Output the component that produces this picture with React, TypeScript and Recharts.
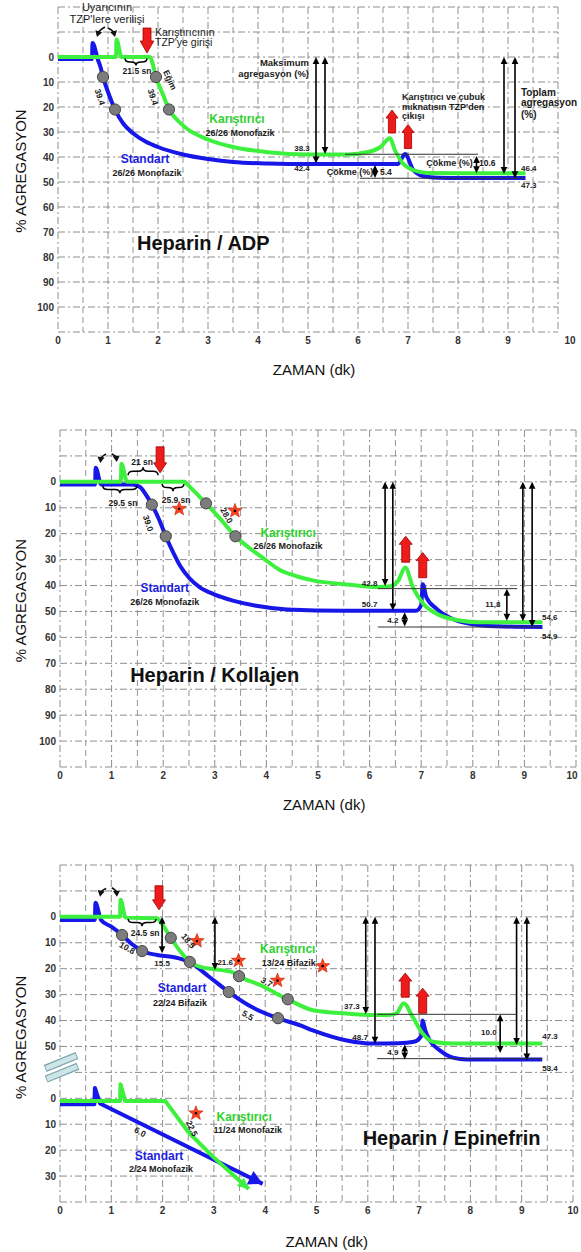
import React from "react";
import { ComposedChart, Line, XAxis, YAxis, CartesianGrid, ReferenceLine, ReferenceDot } from "recharts";

type Pt = [number, number];

const FONT = '"Liberation Sans", Arial, Helvetica, sans-serif';
const BLUE = "#1717e8";
const GREEN = "#3ef03e";
const BLUE_TXT = "#1d1de0";
const GREEN_TXT = "#2fd22f";

// eksenler
const timeTicks = [0, 1, 2, 3, 4, 5, 6, 7, 8, 9, 10];
const halfTicks = [0.5, 1.5, 2.5, 3.5, 4.5, 5.5, 6.5, 7.5, 8.5, 9.5];
const levelTicks = [-20, -10, 0, 10, 20, 30, 40, 50, 60, 70, 80, 90, 100, 110];
const levelLabels = [0, 10, 20, 30, 40, 50, 60, 70, 80, 90, 100];
const epiUpperLabels = [0, 10, 20, 30, 40, 50];
const epiLowerLabels = [0, 10, 20, 30];
const LOW = 70; // alt kesit, ust kesitin 70 cizgisinden baslar

// Heparin / ADP
const adpStandart: Pt[] = [
  [0, 0.8], [0.68, 0.8], [0.69, -5.6], [0.8, 1.2], [0.85, 4], [0.9, 8], [1.0, 14], [1.14, 21],
  [1.3, 26.5], [1.5, 30.5], [1.75, 33.8], [2.0, 36], [2.5, 39], [3.0, 40.8], [3.5, 42], [4.2, 42.6],
  [5.0, 42.8], [6.8, 42.8], [6.94, 38.8], [7.1, 45], [7.3, 47.6], [7.6, 48.3], [8.0, 48.4], [9.35, 48.4],
];
const adpKaristirici: Pt[] = [
  [0, 0], [1.16, 0], [1.17, -7], [1.27, 0], [1.84, 0], [1.9, 3.2], [1.96, 8], [2.1, 15], [2.22, 21],
  [2.4, 25.5], [2.6, 29], [3.0, 33], [3.5, 36], [4.2, 38.1], [5.0, 39], [5.8, 39], [6.2, 38],
  [6.45, 36], [6.64, 32.5], [6.74, 37.4], [6.9, 42.6], [7.1, 45.2], [7.4, 46.4], [8.0, 46.5], [9.35, 46.5],
];
const adpDots: Pt[] = [[0.9, 8], [1.14, 21], [1.96, 8], [2.22, 21]];

// Heparin / Kollajen
const kolStandart: Pt[] = [
  [0, 1], [0.68, 1], [0.69, -5.4], [0.8, 1], [1.4, 1], [1.55, 2], [1.65, 4.5], [1.78, 8.8],
  [1.92, 14.5], [2.05, 21], [2.2, 27.5], [2.33, 32.5], [2.5, 37], [2.71, 40.7], [3.0, 43.5],
  [3.35, 45.8], [3.8, 47.8], [4.4, 49.2], [5.5, 49.7], [6.9, 49.7], [7.0, 47.5], [7.03, 39.5],
  [7.1, 44.5], [7.3, 49], [7.6, 52.8], [8.1, 55.2], [8.6, 55.8], [9.35, 56],
];
const kolKaristirici: Pt[] = [
  [0, 0], [1.18, 0], [1.19, -7], [1.3, 0], [2.42, 0], [2.46, 0.8], [2.83, 8.3], [3.12, 14.6],
  [3.4, 21], [3.7, 26], [3.93, 29.3], [4.26, 34], [4.6, 36.5], [4.9, 38], [5.56, 39.6], [6.14, 40.6],
  [6.4, 40.3], [6.55, 38.3], [6.69, 33], [6.84, 40.7], [7.04, 47], [7.3, 50.9], [7.75, 53.5],
  [8.14, 54.2], [9.35, 54.2],
];
const kolDots: Pt[] = [[1.78, 8.8], [2.05, 21], [2.83, 8.3], [3.4, 21]];
const kolStars: Pt[] = [[2.31, 10.4], [3.39, 11.2]];

// Heparin / Epinefrin
const epiStandart: Pt[] = [
  [0, 1.2], [0.68, 1.2], [0.69, -5.4], [0.8, 1.2], [1.0, 3.8], [1.21, 7], [1.4, 10.5], [1.6, 13.2],
  [1.89, 14.7], [2.2, 15.5], [2.53, 17.5], [2.9, 23], [3.29, 29], [3.76, 35], [4.25, 39.1],
  [4.7, 42], [4.93, 43.8], [5.59, 47.7], [6.1, 48.9], [6.6, 48.8], [6.9, 48.2], [7.04, 46],
  [7.07, 40], [7.12, 43.8], [7.21, 47.7], [7.41, 51.6], [7.66, 54.3], [7.93, 55], [9.4, 55],
];
const epiKaristirici: Pt[] = [
  [0, 0], [1.17, 0], [1.18, -6.6], [1.28, 0.3], [1.89, 0.5], [1.98, 2.5], [2.16, 8.1], [2.35, 13.5],
  [2.53, 17.4], [2.73, 19.3], [3.06, 20.3], [3.37, 21.4], [3.49, 22.9], [3.9, 26.3], [4.44, 31.8],
  [4.93, 36], [5.59, 37.3], [6.1, 37.9], [6.4, 37.9], [6.56, 37.2], [6.7, 33.3], [6.88, 38.8],
  [7.07, 45], [7.27, 48.2], [7.66, 48.9], [9.4, 48.9],
];
const epiDots: Pt[] = [[1.21, 7], [1.6, 13.2], [3.29, 29], [4.25, 39.1], [2.16, 8.1], [2.53, 17.4], [3.49, 22.9], [4.44, 31.8]];
const epiStars: Pt[] = [[2.67, 9.3], [3.48, 16.9], [4.24, 24.6], [5.12, 19]];
const epiLowStandart: Pt[] = [[0, 2.3], [0.67, 2.3], [0.68, -4], [0.78, 2], [3.95, 33]];
const epiLowKaristirici: Pt[] = [[0, 1], [1.17, 1], [1.18, -5.4], [1.27, 1], [2.05, 1], [2.5, 13], [2.98, 22.5], [3.68, 35]];
const epiLowStars: Pt[] = [[2.65, 5.8]];

const pts = (a: Pt[], shift = 0) => a.map(([t, v]) => ({ t, v: v + shift }));

const arrowHead = (x: number, y: number, ux: number, uy: number, len: number, hw: number) => {
  const bx = x - ux * len, by = y - uy * len;
  return `M${x},${y}L${bx - uy * hw},${by + ux * hw}L${bx + uy * hw},${by - ux * hw}Z`;
};

type Opt = { a?: "start" | "middle" | "end"; s?: number; w?: number; c?: string; r?: number };

const label = (k: string, t: number, v: number, s: string, o: Opt = {}) => (
  <ReferenceDot key={k} x={t} y={v} r={0} ifOverflow="visible"
    shape={(p: any) => (
      <text x={p.cx} y={p.cy} dy="0.35em" textAnchor={o.a || "middle"} fontSize={o.s || 9}
        fontWeight={o.w || 700} fill={o.c || "#1b1b1b"} fontFamily={FONT}
        transform={o.r ? `rotate(${o.r} ${p.cx} ${p.cy})` : undefined}>{s}</text>
    )} />
);

const dbl = (k: string, t: number, v1: number, v2: number) => (
  <ReferenceLine key={k} segment={[{ x: t, y: v1 }, { x: t, y: v2 }]} ifOverflow="visible"
    shape={(p: any) => {
      const { x1, y1, x2, y2 } = p;
      const L = Math.hypot(x2 - x1, y2 - y1) || 1, ux = (x2 - x1) / L, uy = (y2 - y1) / L;
      return (
        <g>
          <line x1={x1 + ux * 5} y1={y1 + uy * 5} x2={x2 - ux * 5} y2={y2 - uy * 5} stroke="#000" strokeWidth={1.6} />
          <path d={arrowHead(x2, y2, ux, uy, 7, 3.3)} fill="#000" />
          <path d={arrowHead(x1, y1, -ux, -uy, 7, 3.3)} fill="#000" />
        </g>
      );
    }} />
);

const block = (k: string, t: number, vTail: number, vTip: number, hl = 9, hw = 6.5, sw = 4) => (
  <ReferenceLine key={k} segment={[{ x: t, y: vTail }, { x: t, y: vTip }]} ifOverflow="visible"
    shape={(p: any) => {
      const { x1, y1, x2, y2 } = p;
      const L = Math.hypot(x2 - x1, y2 - y1) || 1, ux = (x2 - x1) / L, uy = (y2 - y1) / L;
      const nx = -uy, ny = ux, mx = x2 - ux * hl, my = y2 - uy * hl;
      const q = [
        [x1 + nx * sw, y1 + ny * sw], [mx + nx * sw, my + ny * sw], [mx + nx * hw, my + ny * hw], [x2, y2],
        [mx - nx * hw, my - ny * hw], [mx - nx * sw, my - ny * sw], [x1 - nx * sw, y1 - ny * sw],
      ];
      return <polygon points={q.map((c) => c.join(",")).join(" ")} fill="#ee1b1b" stroke="#a00000" strokeWidth={0.8} />;
    }} />
);

const brace = (k: string, t1: number, t2: number, vBase: number, vTip: number) => (
  <ReferenceLine key={k} segment={[{ x: t1, y: vBase }, { x: t2, y: vTip }]} ifOverflow="visible"
    shape={(p: any) => {
      const { x1, y1, x2, y2 } = p;
      const xm = (x1 + x2) / 2, ym = (y1 + y2) / 2, r = Math.min(5, (x2 - x1) / 4);
      const d = `M${x1},${y1}Q${x1},${ym} ${x1 + r},${ym}L${xm - r},${ym}Q${xm},${ym} ${xm},${y2}Q${xm},${ym} ${xm + r},${ym}L${x2 - r},${ym}Q${x2},${ym} ${x2},${y1}`;
      return <path d={d} fill="none" stroke="#000" strokeWidth={1.5} />;
    }} />
);

const curl = (k: string, ta: number, va: number, tb: number, vb: number, bend: number) => (
  <ReferenceLine key={k} segment={[{ x: ta, y: va }, { x: tb, y: vb }]} ifOverflow="visible"
    shape={(p: any) => {
      const { x1, y1, x2, y2 } = p;
      const dx = x2 - x1, dy = y2 - y1, L = Math.hypot(dx, dy) || 1;
      const cx = (x1 + x2) / 2 - (dy / L) * bend, cy = (y1 + y2) / 2 + (dx / L) * bend;
      const ex = x2 - cx, ey = y2 - cy, E = Math.hypot(ex, ey) || 1, ux = ex / E, uy = ey / E;
      return (
        <g>
          <path d={`M${x1},${y1}Q${cx},${cy} ${x2 - ux * 4},${y2 - uy * 4}`} fill="none" stroke="#111" strokeWidth={1.7} />
          <path d={arrowHead(x2, y2, ux, uy, 6, 3.6)} fill="#111" />
        </g>
      );
    }} />
);

const thin = (k: string, t1: number, t2: number, v: number) => (
  <ReferenceLine key={k} segment={[{ x: t1, y: v }, { x: t2, y: v }]} ifOverflow="visible" stroke="#333" strokeWidth={1} />
);

const head = (k: string, from: Pt, to: Pt, color: string, len: number, hw: number) => (
  <ReferenceLine key={k} segment={[{ x: from[0], y: from[1] }, { x: to[0], y: to[1] }]} ifOverflow="visible"
    shape={(p: any) => {
      const { x1, y1, x2, y2 } = p;
      const L = Math.hypot(x2 - x1, y2 - y1) || 1;
      return <path d={arrowHead(x2, y2, (x2 - x1) / L, (y2 - y1) / L, len, hw)} fill={color} />;
    }} />
);

const cut = (k: string, ta: number, va: number, tb: number, vb: number) => (
  <ReferenceLine key={k} segment={[{ x: ta, y: va }, { x: tb, y: vb }]} ifOverflow="visible"
    shape={(p: any) => (
      <g>
        <line x1={p.x1} y1={p.y1} x2={p.x2} y2={p.y2} stroke="#7ea6ad" strokeWidth={7.5} />
        <line x1={p.x1 + 0.8} y1={p.y1 - 0.3} x2={p.x2 - 0.8} y2={p.y2 + 0.3} stroke="#cde5e8" strokeWidth={5} />
      </g>
    )} />
);

const grayDot = (p: any) => (
  <circle key={`g${p.index}`} cx={p.cx} cy={p.cy} r={5.6} fill="#7c7c7c" stroke="#474747" strokeWidth={1} />
);

const starDot = (p: any) => {
  const c: string[] = [];
  for (let i = 0; i < 10; i++) {
    const a = -Math.PI / 2 + (i * Math.PI) / 5, r = i % 2 === 0 ? 7.5 : 3.2;
    c.push(`${p.cx + r * Math.cos(a)},${p.cy + r * Math.sin(a)}`);
  }
  return (
    <g key={`s${p.index}`}>
      <polygon points={c.join(" ")} fill="#ff4422" stroke="#c02000" strokeWidth={0.6} />
      <circle cx={p.cx} cy={p.cy} r={1.3} fill="#000" />
    </g>
  );
};

const xTick = (tenDx: number) => (p: any) => (
  <text x={p.x + (p.payload.value === 10 ? tenDx : 0)} y={p.y} dy="0.71em" textAnchor="middle"
    fontSize={10} fontWeight={700} fill="#333" fontFamily={FONT}>{p.payload.value}</text>
);

const yTick = (fmt: (v: number) => string | null) => (p: any) => {
  const s = fmt(p.payload.value);
  if (s == null) return <g />;
  return (
    <text x={p.x} y={p.y} dy="0.35em" textAnchor="end" fontSize={10} fontWeight={700} fill="#333" fontFamily={FONT}>{s}</text>
  );
};

type Curve = { data: Pt[]; color: string; kind: "monotone" | "linear"; shift?: number };

type PanelProps = {
  top: number;
  height: number;
  margin: { top: number; right: number; bottom: number; left: number };
  fmt: (v: number) => string | null;
  tenDx: number;
  curves: Curve[];
  dots: { t: number; v: number }[];
  stars: { t: number; v: number }[];
  notes: React.ReactNode[];
};

function Panel(p: PanelProps) {
  return (
    <div style={{ position: "absolute", left: 0, top: p.top }}>
      <ComposedChart width={581} height={p.height} margin={p.margin}>
        <XAxis type="number" dataKey="t" domain={[0, 10]} ticks={timeTicks} interval={0} allowDataOverflow
          axisLine={false} tickLine={false} tickSize={0} tickMargin={5} tick={xTick(p.tenDx)} height={20} />
        <XAxis xAxisId="half" type="number" dataKey="t" domain={[0, 10]} ticks={halfTicks} interval={0} allowDataOverflow hide />
        <YAxis type="number" domain={[-20, 110]} reversed ticks={levelTicks} interval={0} allowDataOverflow
          axisLine={false} tickLine={false} tickSize={0} tickMargin={4} tick={yTick(p.fmt)} width={40} />
        <CartesianGrid xAxisId="half" horizontal={false} syncWithTicks stroke="#959595" strokeDasharray="6 4" />
        <CartesianGrid syncWithTicks stroke="#8e8e8e" strokeDasharray="7 3 2 3" />
        {p.curves.map((c, i) => (
          <Line key={`c${i}`} data={pts(c.data, c.shift || 0)} dataKey="v" type={c.kind} stroke={c.color}
            strokeWidth={4} strokeLinejoin="round" dot={false} activeDot={false} isAnimationActive={false} />
        ))}
        <Line data={p.dots} dataKey="v" stroke="none" dot={grayDot} activeDot={false} isAnimationActive={false} />
        <Line data={p.stars} dataKey="v" stroke="none" dot={starDot} activeDot={false} isAnimationActive={false} />
        {p.notes}
      </ComposedChart>
    </div>
  );
}

const plainFmt = (v: number) => (levelLabels.includes(v) ? String(v) : null);
const epiFmt = (v: number) => {
  if (epiUpperLabels.includes(v)) return String(v);
  if (v >= LOW && epiLowerLabels.includes(v - LOW)) return String(v - LOW);
  return null;
};

const adpNotes = [
  label("a0", 0.98, -20, "Uyarıcının", { s: 11, w: 400 }),
  label("a1", 0.98, -15.2, "TZP'lere verilişi", { s: 11, w: 400 }),
  curl("a2", 0.94, -12, 0.78, -8, 2.5),
  curl("a3", 1.0, -11.6, 1.14, -8, -2.5),
  block("a4", 1.78, -11.6, -1.6, 12, 6.8, 4),
  label("a5", 1.94, -9.8, "Karıştırıcının", { s: 10.5, w: 400, a: "start" }),
  label("a6", 1.94, -5.8, "TZP'ye girişi", { s: 10.5, w: 400, a: "start" }),
  brace("a7", 1.34, 1.78, 0.6, 3.4),
  label("a8", 1.58, 5.8, "21.5 sn", { s: 8.5 }),
  label("a9", 0.84, 16, "39.4", { s: 8.5, r: 72 }),
  label("a10", 1.9, 16, "39.4", { s: 8.5, r: 72 }),
  label("a11", 2.24, 9.2, "Eğim", { s: 8.5, r: 65 }),
  label("a12", 3.58, 24.8, "Karıştırıcı", { s: 12, c: GREEN_TXT }),
  label("a13", 3.64, 30.4, "26/26 Monofazik", { s: 9 }),
  label("a14", 1.74, 40.8, "Standart", { s: 12, c: BLUE_TXT }),
  label("a15", 1.78, 46.4, "26/26 Monofazik", { s: 9 }),
  label("a16", 5.02, 2.4, "Maksimum", { s: 9.5, a: "end" }),
  label("a17", 5.02, 6.8, "agregasyon (%)", { s: 9.5, a: "end" }),
  dbl("a18", 5.16, 0, 42.6),
  dbl("a19", 5.34, 0, 38.8),
  label("a20", 4.88, 36.4, "38.3", { s: 8 }),
  label("a21", 4.88, 44.6, "42.4", { s: 8 }),
  block("a22", 6.68, 30.4, 21.2, 8, 6, 3.6),
  block("a23", 7.0, 36.6, 27, 8, 6, 3.6),
  label("a24", 6.88, 16, "Karıştırıcı ve çubuk", { s: 9, a: "start" }),
  label("a25", 6.88, 19.8, "mıknatısın TZP'den", { s: 9, a: "start" }),
  label("a26", 6.88, 23.6, "çıkışı", { s: 9, a: "start" }),
  dbl("a27", 8.92, 0, 46.8),
  dbl("a28", 9.14, 0, 48.5),
  label("a29", 9.26, 14, "Toplam", { s: 10, a: "start" }),
  label("a30", 9.26, 18.2, "agregasyon", { s: 10, a: "start" }),
  label("a31", 9.26, 22.8, "(%)", { s: 10, a: "start" }),
  label("a32", 9.26, 44.4, "46.4", { s: 8, a: "start" }),
  label("a33", 9.26, 51.4, "47.3", { s: 8, a: "start" }),
  thin("a34", 5.74, 8.4, 38.9),
  thin("a35", 6.04, 9.3, 48.5),
  dbl("a36", 6.34, 43.2, 48.4),
  label("a37", 5.84, 45.9, "Çökme (%)", { s: 9 }),
  label("a38", 6.44, 45.9, "5.4", { s: 8.5, a: "start" }),
  dbl("a39", 8.37, 39.6, 46.5),
  label("a40", 7.83, 42.3, "Çökme (%)", { s: 9 }),
  label("a41", 8.42, 42.3, "10.6", { s: 8.5, a: "start" }),
  label("a42", 1.58, 74.4, "Heparin / ADP", { s: 20, a: "start", c: "#111" }),
  label("a43", -0.74, 45.6, "% AGREGASYON", { s: 15, w: 400, r: -90, c: "#111" }),
  label("a44", 5.12, 125.2, "ZAMAN (dk)", { s: 15, w: 400, c: "#111" }),
];

const kolNotes = [
  curl("k0", 0.89, -10.8, 0.78, -7.3, 2.5),
  curl("k1", 1.0, -10.8, 1.1, -7.7, -2.5),
  brace("k2", 1.32, 1.9, -2.5, -5.6),
  label("k3", 1.59, -7.8, "21 sn", { s: 8.5 }),
  brace("k4", 0.83, 1.49, 1.5, 4.4),
  label("k5", 1.22, 8.1, "29.5 sn", { s: 8.5 }),
  brace("k6", 1.98, 2.4, 0.8, 3.6),
  label("k7", 2.25, 6.9, "25.9 sn", { s: 8.5 }),
  block("k8", 1.94, -13.5, -3.5, 10, 6.5, 4),
  label("k9", 1.71, 16, "39.0", { s: 8.5, r: 72 }),
  label("k10", 3.23, 13, "28.0", { s: 8.5, r: 60 }),
  label("k11", 4.42, 19.6, "Karıştırıcı", { s: 12, c: GREEN_TXT }),
  label("k12", 4.42, 24.6, "26/26 Monofazik", { s: 9 }),
  label("k13", 2.03, 40.8, "Standart", { s: 12, c: BLUE_TXT }),
  label("k14", 2.03, 46.2, "26/26 Monofazik", { s: 9 }),
  label("k15", 1.36, 74.6, "Heparin / Kollajen", { s: 20, a: "start", c: "#111" }),
  dbl("k16", 6.3, 0, 40.2),
  dbl("k17", 6.45, 0, 49.6),
  label("k18", 6.0, 39.2, "42.8", { s: 8 }),
  label("k19", 6.0, 47.3, "50.7", { s: 8 }),
  block("k20", 6.7, 31, 21, 8, 6.5, 4),
  block("k21", 7.03, 37, 27.3, 8, 6.5, 4),
  dbl("k22", 8.97, 0, 53.8),
  dbl("k23", 9.15, 0, 56),
  label("k24", 9.34, 52.3, "54,6", { s: 8, a: "start" }),
  label("k25", 9.34, 59.4, "54,9", { s: 8, a: "start" }),
  thin("k26", 6.16, 8.86, 41.2),
  dbl("k27", 8.66, 41.2, 53.6),
  label("k28", 8.39, 47.3, "11,8", { s: 8 }),
  thin("k29", 6.16, 9.3, 56),
  dbl("k30", 6.68, 50.3, 55.8),
  label("k31", 6.45, 53.3, "4.2", { s: 8 }),
  label("k32", -0.76, 45.8, "% AGREGASYON", { s: 15, w: 400, r: -90, c: "#111" }),
  label("k33", 5.12, 124.6, "ZAMAN (dk)", { s: 15, w: 400, c: "#111" }),
];

const epiNotes = [
  curl("e0", 0.9, -10.9, 0.78, -7.8, 2.5),
  curl("e1", 1.01, -11.2, 1.11, -7.8, -2.5),
  block("e2", 1.93, -12, -2.7, 10, 6.5, 4),
  brace("e3", 1.33, 1.87, 0.8, 3.6),
  label("e4", 1.66, 6.3, "24.5 sn", { s: 8.5 }),
  dbl("e5", 1.99, 0, 14),
  label("e6", 1.99, 17.8, "15.5", { s: 8 }),
  dbl("e7", 3.02, 0, 20.5),
  label("e8", 3.22, 17.4, "21.6", { s: 8 }),
  label("e9", 1.31, 12, "10.8", { s: 8.5, r: 30 }),
  label("e10", 2.5, 9.3, "18.5", { s: 8.5, r: 50 }),
  label("e11", 4.03, 25.2, "3.7", { s: 8.5, r: 30 }),
  label("e12", 3.66, 38, "5.5", { s: 8.5, r: 30 }),
  label("e13", 4.44, 12.4, "Karıştırıcı", { s: 12, c: GREEN_TXT }),
  label("e14", 4.46, 17.8, "13/24 Bifazik", { s: 9 }),
  label("e15", 2.38, 27.5, "Standart", { s: 12, c: BLUE_TXT }),
  label("e16", 2.34, 33.3, "22/24 Bifazik", { s: 9 }),
  dbl("e17", 5.96, 0, 37.5),
  dbl("e18", 6.14, 0, 49),
  label("e19", 5.69, 34.5, "37.3", { s: 8 }),
  label("e20", 5.85, 46.5, "48.7", { s: 8 }),
  block("e21", 6.73, 31, 21.7, 8, 6.5, 4),
  block("e22", 7.07, 37.2, 27.5, 8, 6.5, 4),
  dbl("e23", 8.9, 0, 49.4),
  dbl("e24", 9.1, 0, 55.4),
  label("e25", 9.4, 46, "47.3", { s: 8, a: "start" }),
  label("e26", 9.4, 58.2, "53.4", { s: 8, a: "start" }),
  thin("e27", 6.18, 8.9, 37.6),
  dbl("e28", 8.58, 37.6, 52.5),
  label("e29", 8.36, 44.6, "10.0", { s: 8 }),
  thin("e30", 6.18, 9.4, 54.7),
  dbl("e31", 6.72, 49.2, 55),
  label("e32", 6.49, 52.3, "4.9", { s: 8 }),
  cut("e33", -0.29, 58.5, 0.33, 53.5),
  cut("e34", -0.27, 62.6, 0.35, 57.6),
  head("e35", [3.5, LOW + 28.6], [3.95, LOW + 33], BLUE, 14, 7.5),
  head("e36", [3.3, LOW + 28.5], [3.68, LOW + 35], GREEN, 11, 5.5),
  label("e37", 1.56, LOW + 13, "6.0", { s: 8.5, r: 28 }),
  label("e38", 2.57, LOW + 11.6, "22.5", { s: 8.5, r: 65 }),
  label("e39", 3.59, LOW + 7, "Karıştırıcı", { s: 12, c: GREEN_TXT }),
  label("e40", 3.66, LOW + 12, "11/24 Monofazik", { s: 9 }),
  label("e41", 1.93, LOW + 22, "Standart", { s: 12, c: BLUE_TXT }),
  label("e42", 1.97, LOW + 27.1, "2/24 Monofazik", { s: 9 }),
  label("e43", 5.9, LOW + 15.5, "Heparin / Epinefrin", { s: 20, a: "start", c: "#111" }),
  label("e44", -0.76, 46.5, "% AGREGASYON", { s: 15, w: 400, r: -90, c: "#111" }),
  label("e45", 5.2, 125.2, "ZAMAN (dk)", { s: 15, w: 400, c: "#111" }),
];

export default function App() {
  return (
    <div style={{ position: "absolute", left: 0, top: 0, width: 581, height: 1252, background: "#fff", fontFamily: FONT, overflow: "hidden" }}>
      <Panel top={0} height={380} margin={{ top: 7, right: 23, bottom: 28, left: 18 }} fmt={plainFmt} tenDx={12}
        curves={[
          { data: adpStandart, color: BLUE, kind: "monotone" },
          { data: adpKaristirici, color: GREEN, kind: "monotone" },
        ]}
        dots={pts(adpDots)} stars={[]} notes={adpNotes} />
      <Panel top={400} height={420} margin={{ top: 30, right: 5, bottom: 33, left: 20 }} fmt={plainFmt} tenDx={-4}
        curves={[
          { data: kolStandart, color: BLUE, kind: "monotone" },
          { data: kolKaristirici, color: GREEN, kind: "monotone" },
        ]}
        dots={pts(kolDots)} stars={pts(kolStars)} notes={kolNotes} />
      <Panel top={840} height={412} margin={{ top: 25, right: 8, bottom: 30, left: 20 }} fmt={epiFmt} tenDx={0}
        curves={[
          { data: epiStandart, color: BLUE, kind: "monotone" },
          { data: epiKaristirici, color: GREEN, kind: "monotone" },
          { data: epiLowStandart, color: BLUE, kind: "linear", shift: LOW },
          { data: epiLowKaristirici, color: GREEN, kind: "linear", shift: LOW },
        ]}
        dots={pts(epiDots)} stars={[...pts(epiStars), ...pts(epiLowStars, LOW)]} notes={epiNotes} />
    </div>
  );
}
